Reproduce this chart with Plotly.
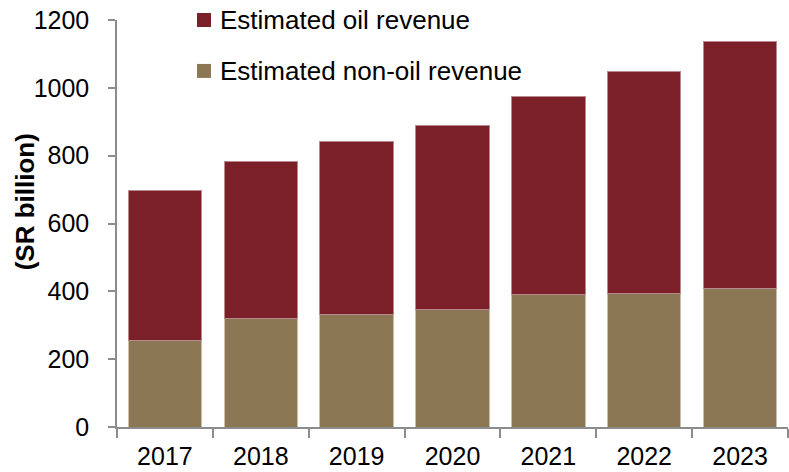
import plotly.graph_objects as go

# Saudi budget revenue estimates (SR billion)
years = ["2017", "2018", "2019", "2020", "2021", "2022", "2023"]
total_revenue = [696, 784, 842, 888, 975, 1049, 1138]
non_oil_revenue = [256, 320, 331, 345, 392, 393, 408]
oil_revenue = [t - n for t, n in zip(total_revenue, non_oil_revenue)]

y_ticks = [0, 200, 400, 600, 800, 1000, 1200]

OIL_NAME = "Estimated oil revenue"
NON_OIL_NAME = "Estimated non-oil revenue"
OIL_COLOR = "#7b2029"
NON_OIL_COLOR = "#8c7755"
AXIS_COLOR = "#8c8c8c"
FONT = "Liberation Sans, Arial, sans-serif"

fig = go.Figure()
fig.add_trace(go.Bar(
    x=years, y=non_oil_revenue, name=NON_OIL_NAME,
    marker=dict(color=NON_OIL_COLOR, line=dict(color="#cbbfa8", width=1)),
))
fig.add_trace(go.Bar(
    x=years, y=oil_revenue, name=OIL_NAME,
    marker=dict(color=OIL_COLOR, line=dict(color="#b88a90", width=1)),
))

fig.update_layout(
    width=789, height=472,
    margin=dict(l=117, r=1, t=20, b=44.5),
    barmode="stack", bargap=0.235,
    plot_bgcolor="white", paper_bgcolor="white",
    font=dict(family=FONT, size=25, color="#000000"),
    showlegend=False,
)

fig.update_xaxes(
    type="category", showgrid=False,
    showline=True, linecolor=AXIS_COLOR, linewidth=1.5,
    ticks="outside", tickson="boundaries", ticklen=9,
    tickcolor=AXIS_COLOR, tickwidth=1.5,
    ticklabelstandoff=6,
    tickfont=dict(size=25),
)
fig.update_yaxes(
    range=[0, 1200], tickvals=y_ticks, showgrid=False, zeroline=False,
    showline=True, linecolor=AXIS_COLOR, linewidth=1.5,
    ticks="outside", ticklen=7, tickcolor=AXIS_COLOR, tickwidth=1.5,
    ticklabelstandoff=14,
    tickfont=dict(size=25),
)

# Legend: square swatch plus label, stacked top-left inside the plot
legend_rows = [
    (OIL_NAME, OIL_COLOR, 0.9828, 1.0172, 1.0),
    (NON_OIL_NAME, NON_OIL_COLOR, 0.8577, 0.8920, 0.8748),
]
for label, color, y0, y1, ytext in legend_rows:
    fig.add_shape(
        type="rect", xref="paper", yref="paper",
        x0=0.1192, x1=0.1401, y0=y0, y1=y1,
        fillcolor=color, line=dict(width=0), layer="above",
    )
    fig.add_annotation(
        text=label, xref="paper", yref="paper",
        x=0.1505, y=ytext, xanchor="left", yanchor="middle",
        showarrow=False, font=dict(size=26, family=FONT, color="#000000"),
    )

fig.add_annotation(
    text="<b>(SR billion)</b>", textangle=-90,
    xref="paper", yref="paper",
    x=-0.1371, y=0.552, xanchor="center", yanchor="middle",
    showarrow=False, font=dict(size=26, family=FONT, color="#000000"),
)

fig.write_html("out.html")
